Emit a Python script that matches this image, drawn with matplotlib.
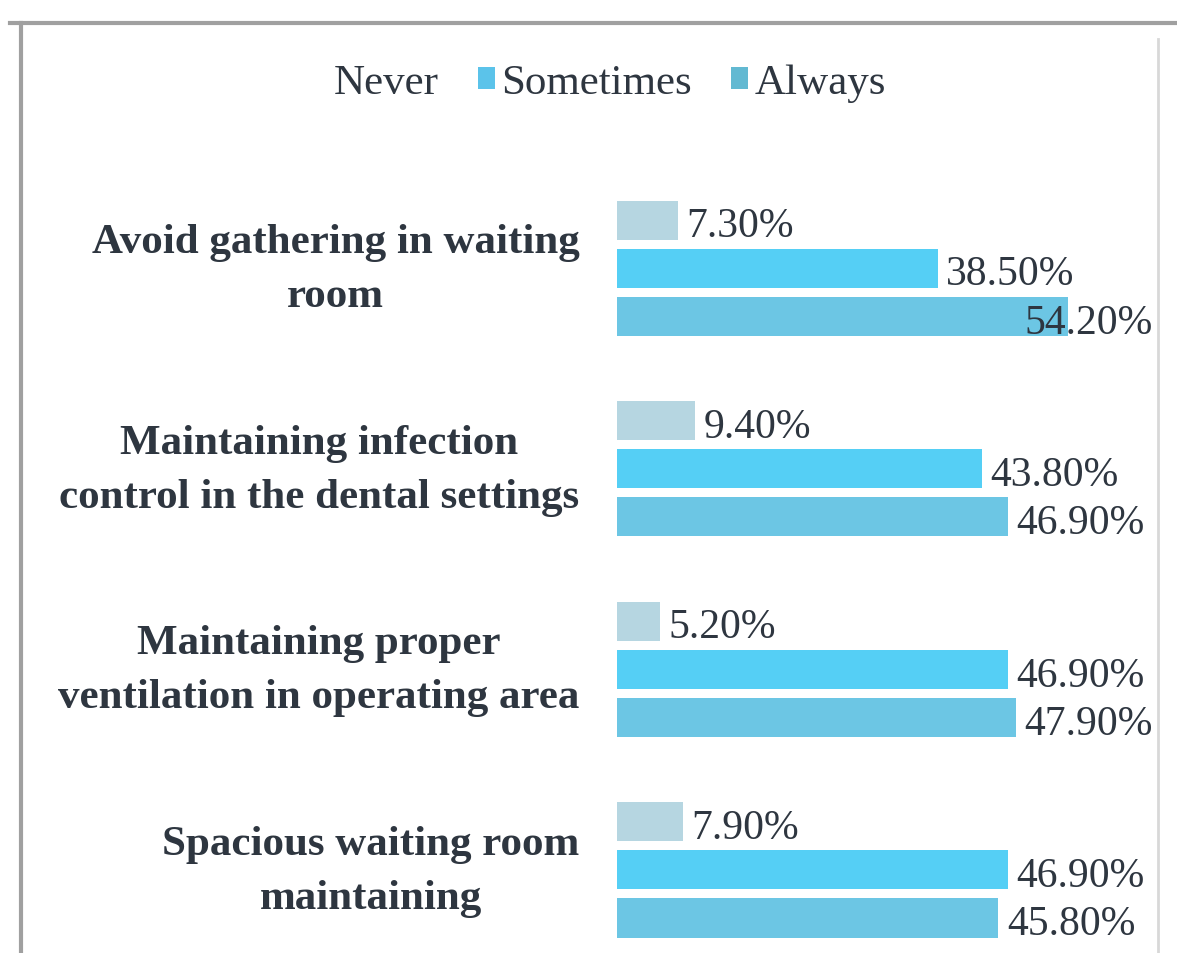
import numpy as np
import matplotlib.pyplot as plt
import matplotlib.transforms as mtransforms
from matplotlib.patches import Patch
from matplotlib.lines import Line2D

plt.rcParams['font.family'] = ['Liberation Serif', 'DejaVu Serif']

categories = ["Avoid gathering in waiting\nroom",
              "Maintaining infection\ncontrol in the dental settings",
              "Maintaining proper\nventilation in operating area",
              "Spacious waiting room\nmaintaining"]
series = ["Never", "Sometimes", "Always"]
never = [7.3, 9.4, 5.2, 7.9]
sometimes = [38.5, 43.8, 46.9, 46.9]
always = [54.2, 46.9, 47.9, 45.8]

colors = ["#b6d6e1", "#55cff5", "#6cc6e4"]
txt = "#2e3640"

fig = plt.figure(figsize=(11.77, 9.54), dpi=100)
ax = fig.add_axes([0.524, 0.0115, 0.461, 0.782])

y = np.arange(len(categories))
offs = [-0.24, 0.0, 0.24]
h = 0.195
xmax = 65.1

for vals, off, c in zip([never, sometimes, always], offs, colors):
    ax.barh(y + off, vals, height=h, color=c)
    for yi, v in zip(y, vals):
        lab = f"{v:.2f}%"
        if v > 50:
            ax.text(64.3, yi + off + 0.03, lab, ha='right', va='center',
                    fontsize=30, color=txt)
        else:
            ax.text(v + 1.0, yi + off + 0.03, lab, ha='left', va='center',
                    fontsize=30, color=txt)

ax.set_xlim(0, xmax)
ax.set_ylim(3.36, -0.36)
ax.set_xticks([])
ax.set_yticks([])
for s in ax.spines.values():
    s.set_visible(False)

# category labels, right-aligned block with centred lines
trans = mtransforms.blended_transform_factory(ax.transAxes, ax.transData)
for yi, cat in zip(y, categories):
    ax.text(-0.069, yi + 0.005, cat, transform=trans, ha='right', va='center',
            multialignment='center', linespacing=1.55, fontsize=31,
            fontweight='bold', color=txt)

handles = [Patch(facecolor='none', edgecolor='none'),
           Patch(facecolor="#5bc3ea"),
           Patch(facecolor="#62b9d2")]
fig.legend(handles, series, loc='center', bbox_to_anchor=(0.508, 0.912),
           ncol=3, frameon=False, fontsize=31, handlelength=0.4,
           handleheight=0.4, handletextpad=0.15, columnspacing=0.9,
           labelcolor=txt)

W, H = 1177, 954
fig.add_artist(Line2D([10 / W, 1.0], [1 - 24 / H, 1 - 24 / H],
                      transform=fig.transFigure, color="#a0a0a0", lw=3))
fig.add_artist(Line2D([21 / W, 21 / W], [1 - 24 / H, 0.0],
                      transform=fig.transFigure, color="#a0a0a0", lw=3))
fig.add_artist(Line2D([1158 / W, 1158 / W], [1 - 40 / H, 0.0],
                      transform=fig.transFigure, color="#d8d8d8", lw=2))

fig.savefig("out.png", dpi=100)
